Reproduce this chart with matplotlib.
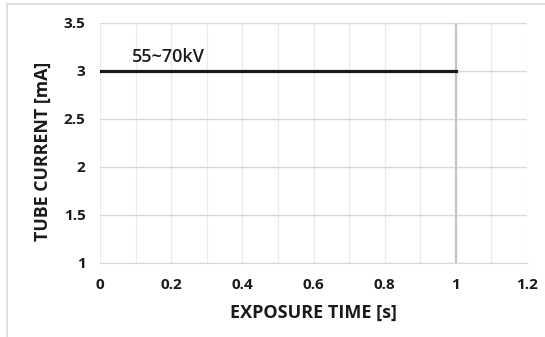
import matplotlib
matplotlib.use("Agg")
from matplotlib import pyplot as plt
from matplotlib.patches import Rectangle
from matplotlib.ticker import MultipleLocator

# data
time_s = [0, 1]
current_ma = [3, 3]
cutoff_time = [1]
series_label = "55~70kV"

x_ticks = [0, 0.2, 0.4, 0.6, 0.8, 1, 1.2]
x_tick_labels = ["0", "0.2", "0.4", "0.6", "0.8", "1", "1.2"]
y_ticks = [1, 1.5, 2, 2.5, 3, 3.5]
y_tick_labels = ["1", "1.5", "2", "2.5", "3", "3.5"]

plt.rcParams['font.family'] = ['Open Sans', 'DejaVu Sans']

fig = plt.figure(figsize=(5.45, 3.37), dpi=100)
ax = fig.add_axes([100 / 545, 1 - 263 / 337, 427 / 545, 240 / 337])

# chart border (only top and left visible in the crop)
fig.patches.append(Rectangle((7 / 545, -0.05), 1.2, 1 - 4 / 337 + 0.05,
                             transform=fig.transFigure, fill=False,
                             edgecolor='#d9d9d9', linewidth=1.2))

ax.set_xlim(0, 1.2)
ax.set_ylim(1, 3.5)

# grid
ax.xaxis.set_minor_locator(MultipleLocator(0.1))
ax.grid(which='major', axis='y', color='#d9d9d9', linewidth=1.0)
ax.grid(which='both', axis='x', color='#ececec', linewidth=0.9)
ax.set_axisbelow(True)

for x in cutoff_time:
    ax.axvline(x, color='#c4c4c4', linewidth=1.6, zorder=2)

ax.plot(time_s, current_ma, color='#1a1a1a', linewidth=2.3, zorder=3)
ax.text(0.09, 3.095, series_label, fontsize=13, fontweight='semibold',
        color='#1a1a1a')

ax.set_xticks(x_ticks)
ax.set_xticklabels(x_tick_labels)
ax.set_yticks(y_ticks)
ax.set_yticklabels(y_tick_labels)
ax.tick_params(which='both', length=0, labelsize=11, colors='#1a1a1a')
for lbl in ax.get_xticklabels() + ax.get_yticklabels():
    lbl.set_fontweight('bold')
ax.tick_params(axis='x', pad=11)
ax.tick_params(axis='y', pad=10.5)

for side in ['top', 'right', 'left']:
    ax.spines[side].set_visible(False)
ax.spines['bottom'].set_color('#d9d9d9')

ax.set_xlabel("EXPOSURE TIME [s]", fontsize=13, fontweight='bold',
              color='#1a1a1a')
ax.set_ylabel("TUBE CURRENT [mA]", fontsize=12.8, fontweight='bold',
              color='#1a1a1a')
ax.xaxis.set_label_coords(0.5, -(313 - 263) / 240, transform=ax.transAxes)
ax.xaxis.label.set_va('center')
ax.yaxis.set_label_coords(-(100 - 43) / 427, (263 - 151) / 240,
                          transform=ax.transAxes)
ax.yaxis.label.set_va('center')

fig.savefig("out.png", dpi=100)
